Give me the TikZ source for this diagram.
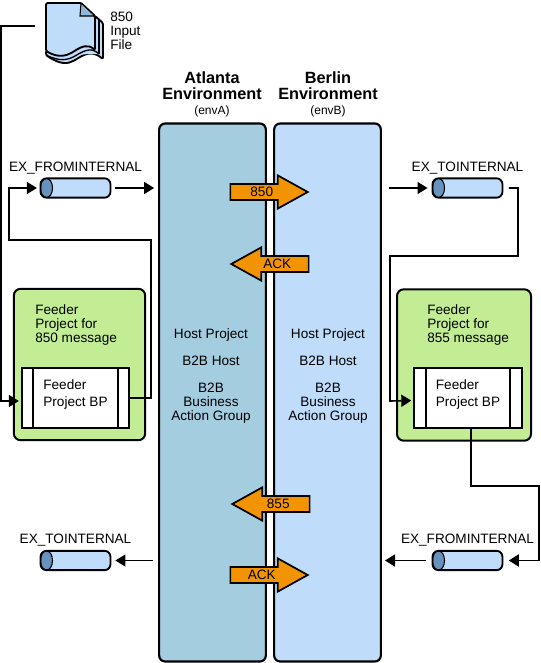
\documentclass[tikz,border=0pt]{standalone}
\usepackage{fontspec}
\setmainfont{Liberation Sans}
\usepackage{xcolor}
\usetikzlibrary{positioning,arrows.meta,calc,shapes.arrows}
\definecolor{atlantablue}{RGB}{165,205,224}
\definecolor{berlinblue}{RGB}{191,220,250}
\definecolor{feedergreen}{RGB}{194,237,149}
\definecolor{msgorange}{RGB}{242,148,0}
\definecolor{capblue}{RGB}{104,146,190}
\definecolor{foldblue}{RGB}{143,182,216}

\begin{document}
\begin{tikzpicture}[
      x=0.75pt, y=-0.75pt,
      >={Triangle[length=7.5pt,width=9pt]},
      env/.style={rounded corners=4.5pt, draw=black, line width=1.6pt,
                  minimum width=80pt, minimum height=403.5pt},
      feeder/.style={rounded corners=5pt, draw=black, fill=feedergreen,
                     line width=1.5pt, minimum height=113.5pt},
      bpbox/.style={draw=black, fill=white, line width=1.5pt, align=left,
                    font=\fontsize{10.2}{12.4}\selectfont, minimum width=80.5pt, minimum height=45pt,
                    text depth=7pt,
                    path picture={
                      \draw[line width=1.5pt] ([xshift=8.5pt]path picture bounding box.north west)
                          -- ([xshift=8.5pt]path picture bounding box.south west);
                      \draw[line width=1.5pt] ([xshift=-8.5pt]path picture bounding box.north east)
                          -- ([xshift=-8.5pt]path picture bounding box.south east);}},
      queue/.style={rounded corners=4.5pt, draw=black, fill=berlinblue, line width=1.4pt,
                    minimum width=52.5pt, minimum height=14.5pt, inner sep=0pt,
                    path picture={
                      \draw[fill=capblue, line width=0.8pt] ([xshift=4.5pt]path picture bounding box.west)
                          ellipse (4.5pt and 7.25pt);}},
      msg/.style={single arrow, draw=black, fill=msgorange, line width=1.3pt,
                  font=\fontsize{10.2}{10}\selectfont, inner xsep=1pt, inner ysep=0pt,
                  minimum width=25pt, minimum height=58pt,
                  single arrow head extend=4.5pt, single arrow tip angle=58},
      lbl/.style={font=\fontsize{10.2}{10.5}\selectfont, align=left, inner sep=0pt},
      qname/.style={font=\fontsize{10.2}{10.5}\selectfont, inner sep=0pt},
      hosttext/.style={font=\fontsize{10.2}{10.5}\selectfont, align=center, inner sep=0pt},
      envtitle/.style={font=\fontsize{12.2}{12}\selectfont\bfseries, align=center, inner sep=0pt},
      envid/.style={font=\fontsize{9}{10}\selectfont, inner sep=0pt},
      arr/.style={->, line width=1.2pt, draw=black}
    ]
    \useasboundingbox (0,0) rectangle (541,663);
    % the two environments
    \node[env, fill=atlantablue] (enva) at (212.5,392.5) {};
    \node[env, fill=berlinblue]  (envb) at (327.5,392.5) {};
    \node[envtitle] (titlea) at (212,86) {Atlanta\\Environment};
    \node[envtitle] (titleb) at (328,86) {Berlin\\Environment};
    \node[envid, below=4pt of titlea] (ida) {(envA)};
    \node[envid, below=4pt of titleb] (idb) {(envB)};
    \node[hosttext] (hosta) at (211,335) {Host Project};
    \node[hosttext] (b2ba) at (211,361) {B2B Host};
    \node[hosttext] (groupa) at (211,403) {B2B\\Business\\Action Group};
    \node[hosttext] (hostb) at (328,335) {Host Project};
    \node[hosttext] (b2bb) at (328,361) {B2B Host};
    \node[hosttext] (groupb) at (328,403) {B2B\\Business\\Action Group};
    % input file
    \draw[line width=1.4pt, fill=berlinblue, rounded corners=1pt]
      (95,16) -- (103,23) -- (103,59) .. controls (92,50) and (85,54) .. (75,60)
      .. controls (68,64) and (60,65) .. (46,55) -- (46,51) -- cycle;
    \draw[line width=1pt] (99,20) -- (99,54);
    \draw[line width=1pt, fill=berlinblue] (46,55) .. controls (60,62) and (68,60) .. (75,56)
      .. controls (85,50) and (92,47) .. (99,54);
    \draw[line width=1.4pt, fill=berlinblue, rounded corners=1pt]
      (46,3) -- (81,3) -- (95,16) -- (95,50) .. controls (88,44) and (82,46) .. (73,52)
      .. controls (66,56) and (58,58) .. (46,51) -- cycle;
    \draw[line width=0.8pt, fill=foldblue] (81,3) -- (80,16) -- (95,16) -- cycle;
    \coordinate (docout) at (35,26);
    \node[lbl, anchor=north west] (docname) at (110,11.5) {850\\Input\\File};
    % feeder projects
    \node[feeder, minimum width=98.5pt] (feedera) at (79.5,364.5) {};
    \node[feeder, minimum width=100.5pt] (feederb) at (464,365) {};
    \node[lbl, anchor=north west] (feedernamea) at (35,304) {Feeder\\Project for\\850 message};
    \node[lbl, anchor=north west] (feedernameb) at (427,304) {Feeder\\Project for\\855 message};
    \node[bpbox] (bpa) at (75.5,398) {Feeder\\Project BP};
    \node[bpbox] (bpb) at (468,397.5) {Feeder\\Project BP};
    % queues
    \node[queue] (fromtop) at (75.5,188) {};
    \node[queue] (totop) at (467.5,188) {};
    \node[queue] (tobot) at (75.5,560.5) {};
    \node[queue] (frombot) at (467.5,560.5) {};
    \node[qname, above=2.5pt of fromtop] (fromtopname) {EX\_FROMINTERNAL};
    \node[qname, above=2.5pt of totop] (totopname) {EX\_TOINTERNAL};
    \node[qname, above=2.5pt of tobot] (tobotname) {EX\_TOINTERNAL};
    \node[qname, above=2.5pt of frombot] (frombotname) {EX\_FROMINTERNAL};
    % messages between the environments
    \node[msg, anchor=tip] (msgone) at (309.5,192) {850};
    \node[msg, anchor=tip, shape border rotate=180] (msgtwo) at (229.5,264) {ACK};
    \node[msg, anchor=tip, shape border rotate=180] (msgthree) at (230.5,504) {855};
    \node[msg, anchor=tip] (msgfour) at (309.5,575) {ACK};
    % left side wires
    \draw[arr, shorten >=1.5pt] (docout) -- (1,26) -- (1,401) -- ([yshift=-2.25pt]bpa.west);
    \draw[arr, shorten >=2pt] (bpa.east) -- (151,398) -- (151,240) -- (9,240) -- (9,188) -- (fromtop.west);
    \draw[arr, shorten <=3pt, shorten >=3pt] (fromtop.east) -- (enva.west |- fromtop);
    \draw[arr, shorten <=4pt, shorten >=3pt] (enva.west |- tobot) -- (tobot.east);
    % right side wires
    \draw[arr, shorten <=5pt, shorten >=3pt] (envb.east |- totop) -- (totop.west);
    \draw[arr, shorten <=4pt, shorten >=1.5pt] (totop.east) -- (518,188) -- (518,256) -- (390,256) -- (390,401) -- ([yshift=-2.25pt]bpb.west);
    \draw[arr, shorten >=4pt] ([xshift=2.25pt]bpb.south) -- (471,486) -- (539,486) -- (539,560.5) -- (frombot.east);
    \draw[arr, shorten <=4pt] (frombot.west) -- (385,560.5);
  \end{tikzpicture}
\end{document}
